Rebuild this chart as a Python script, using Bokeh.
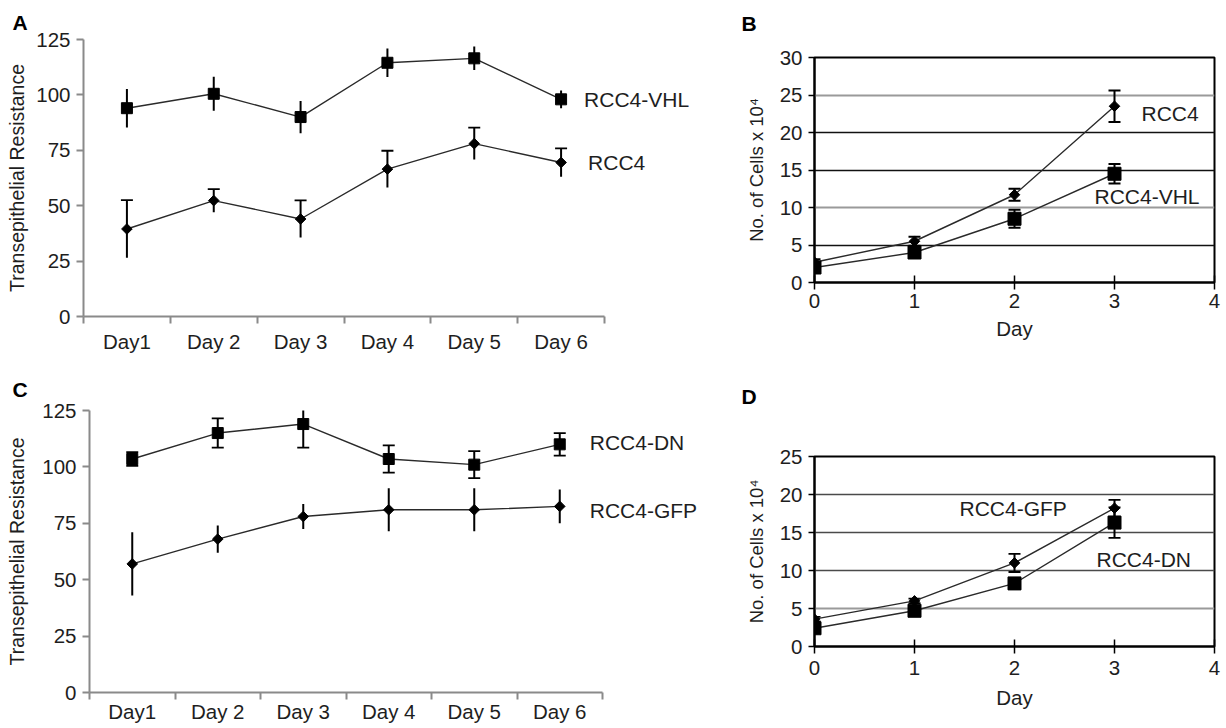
import numpy as np
from bokeh.plotting import figure
from bokeh.models import (Range1d, FixedTicker, Label, Whisker, TeeHead,
                          ColumnDataSource, Grid)
from bokeh.layouts import column, row
from bokeh.embed import file_html
from bokeh.resources import INLINE

# ---------------- data ----------------
days_ac = ["Day1", "Day 2", "Day 3", "Day 4", "Day 5", "Day 6"]
ter_ticks = [0, 25, 50, 75, 100, 125]

# Panel A
a_vhl = [94, 100.5, 90, 114.5, 116.5, 98]
a_vhl_err = [8.7, 7.7, 7.3, 6.4, 5.3, 4.0]
a_rcc4 = [39.5, 52.3, 44, 66.5, 78, 69.5]
a_rcc4_err = [13, 5.2, 8.4, 8.3, 7.2, 6.4]

# Panel C
c_dn = [103.5, 115, 119, 103.5, 101, 110]
c_dn_err = [3, 6.5, 10.5, 6, 6, 5]
c_gfp = [57, 68, 78, 81, 81, 82.5]
c_gfp_err = [14, 6, 5.5, 9.5, 9.5, 7.5]

# Panel B
days_bd = [0, 1, 2, 3]
day_ticks = [0, 1, 2, 3, 4]
b_ticks = [0, 5, 10, 15, 20, 25, 30]
b_rcc4 = [2.7, 5.5, 11.7, 23.5]
b_rcc4_err = [0.4, 0.6, 0.8, 2.1]
b_vhl = [2.0, 4.0, 8.5, 14.5]
b_vhl_err = [0.3, 0.4, 1.2, 1.3]

# Panel D
d_ticks = [0, 5, 10, 15, 20, 25]
d_gfp = [3.6, 6.0, 11.0, 18.2]
d_gfp_err = [0.3, 0.3, 1.2, 1.1]
d_dn = [2.4, 4.7, 8.3, 16.3]
d_dn_err = [0.3, 0.3, 0.7, 2.0]

FONT = "Liberation Sans"
TXT = "#1e1e1e"


def add_series(p, xs, ys, errs, marker, size, upper_cap, lower_cap, angle=0.0):
    src = ColumnDataSource(dict(
        x=xs, y=ys,
        upper=[y + e for y, e in zip(ys, errs)],
        lower=[y - e for y, e in zip(ys, errs)]))
    p.line("x", "y", source=src, line_color="#2a2a2a", line_width=1.4)
    w = Whisker(base="x", upper="upper", lower="lower", source=src,
                dimension="height", line_color="black", line_width=2,
                upper_head=TeeHead(size=12, line_color="black", line_width=1.8) if upper_cap else None,
                lower_head=TeeHead(size=12, line_color="black", line_width=1.8) if lower_cap else None)
    p.add_layout(w)
    p.scatter("x", "y", source=src, marker=marker, size=size, angle=angle,
              fill_color="black", line_color="black")
    return src


def series_label(p, x, y, text, dx, dy):
    p.add_layout(Label(x=x, y=y, x_offset=dx, y_offset=dy, text=text,
                       text_baseline="middle", text_align="left",
                       text_font=FONT, text_font_size="21px", text_color=TXT))


def panel_letter(p, text, offset, standoff, blank_lines=0):
    p.title.text = text + "\n\u00a0" * blank_lines
    p.title.align = "left"
    p.title.offset = offset
    p.title.standoff = standoff
    p.title.text_font = FONT
    p.title.text_font_size = "21px"
    p.title.text_font_style = "bold"
    p.title.text_color = "black"


def ter_panel(width, height, bl, bt, bb, axis_px, label_standoff):
    n = len(days_ac)
    frame_px = width - bl
    p = figure(width=width, height=height,
               x_range=Range1d(0, n * frame_px / axis_px),
               y_range=Range1d(0, 125), output_backend="svg",
               toolbar_location=None, min_border_left=bl, min_border_right=0,
               min_border_top=bt, min_border_bottom=bb)
    p.outline_line_color = None
    p.xgrid.visible = False
    p.ygrid.visible = False
    centers = [i + 0.5 for i in range(n)]
    p.xaxis.ticker = FixedTicker(ticks=centers, minor_ticks=list(range(n + 1)))
    p.xaxis.bounds = (0, n)
    p.xaxis.major_label_overrides = {c: d for c, d in zip(centers, days_ac)}
    p.xaxis.minor_tick_out = 7
    p.xaxis.minor_tick_in = 0
    p.xaxis.minor_tick_line_color = "#8a8a8a"
    p.xaxis.minor_tick_line_width = 2
    p.yaxis.ticker = FixedTicker(ticks=ter_ticks)
    p.yaxis.major_tick_out = 7
    p.yaxis.major_tick_in = 0
    p.yaxis.minor_tick_line_color = None
    for ax in (p.xaxis, p.yaxis):
        ax.axis_line_color = "#8a8a8a"
        ax.axis_line_width = 2
        ax.major_tick_line_width = 2
        ax.major_label_text_font = FONT
        ax.major_label_text_font_size = "20.5px"
        ax.major_label_text_color = TXT
    p.yaxis.major_tick_line_color = "#8a8a8a"
    p.xaxis.major_tick_line_color = None
    p.yaxis.major_label_standoff = 6
    p.xaxis.major_label_standoff = label_standoff
    p.yaxis.axis_label = "Transepithelial Resistance"
    p.yaxis.axis_label_text_font = FONT
    p.yaxis.axis_label_text_font_size = "19.5px"
    p.yaxis.axis_label_text_font_style = "normal"
    p.yaxis.axis_label_text_color = TXT
    return p, centers


def cells_panel(width, height, bl, br, bt, bb, ymax, yticks, tick_standoff, day_standoff):
    p = figure(width=width, height=height, x_range=Range1d(0, 4),
               y_range=Range1d(0, ymax), output_backend="svg",
               toolbar_location=None, min_border_left=bl, min_border_right=br,
               min_border_top=bt, min_border_bottom=bb)
    p.outline_line_color = "black"
    p.outline_line_width = 2
    p.xgrid.visible = False
    p.ygrid.visible = False
    p.xaxis.ticker = FixedTicker(ticks=day_ticks)
    p.yaxis.ticker = FixedTicker(ticks=yticks)
    for ax in (p.xaxis, p.yaxis):
        ax.axis_line_color = "black"
        ax.axis_line_width = 2
        ax.major_tick_line_color = "black"
        ax.major_tick_line_width = 1.5
        ax.minor_tick_line_color = None
        ax.major_label_text_font = FONT
        ax.major_label_text_font_size = "20.5px"
        ax.major_label_text_color = TXT
        ax.axis_label_text_font = FONT
        ax.axis_label_text_font_style = "normal"
        ax.axis_label_text_color = TXT
    p.xaxis.major_tick_in = 7
    p.xaxis.major_tick_out = 7
    p.yaxis.major_tick_in = 0
    p.yaxis.major_tick_out = 6
    p.xaxis.major_label_standoff = tick_standoff
    p.yaxis.major_label_standoff = 6
    p.xaxis.axis_label = "Day"
    p.xaxis.axis_label_text_font_size = "20.5px"
    p.xaxis.axis_label_standoff = day_standoff
    p.yaxis.axis_label = "No. of Cells x 10\u2074"
    p.yaxis.axis_label_text_font_size = "18.5px"
    p.yaxis.axis_label_standoff = 10
    return p


# ---------------- Panel A ----------------
pA, cA = ter_panel(720, 364, 83, 39, 48, 521, 6)
pA.yaxis.axis_label_standoff = 5
add_series(pA, cA, a_vhl, a_vhl_err, "square", 11, False, False)
add_series(pA, cA, a_rcc4, a_rcc4_err, "square", 7.5, True, False, angle=np.pi / 4)
series_label(pA, cA[-1], a_vhl[-1], "RCC4-VHL", 23, 0)
series_label(pA, cA[-1], a_rcc4[-1], "RCC4", 27, 0)
panel_letter(pA, "A", -71, 12)

# ---------------- Panel C ----------------
pC, cC = ter_panel(720, 364, 89, 46, 36, 513, 0)
pC.yaxis.axis_label_standoff = 11
add_series(pC, cC, c_dn, c_dn_err, "square", 11, True, True)
add_series(pC, cC, c_gfp, c_gfp_err, "square", 7.5, False, False, angle=np.pi / 4)
series_label(pC, cC[-1], c_dn[-1], "RCC4-DN", 30, 2)
series_label(pC, cC[-1], c_gfp[-1], "RCC4-GFP", 30, -4)
panel_letter(pC, "C", -77, 20)

# ---------------- Panel B ----------------
pB = cells_panel(506, 364, 94, 12, 57, 82, 30, b_ticks, 4, 6)
pB.add_layout(Grid(dimension=1, ticker=FixedTicker(ticks=[25, 10]),
                   grid_line_color="#9a9a9a", grid_line_width=2))
pB.add_layout(Grid(dimension=1, ticker=FixedTicker(ticks=[20, 15, 5]),
                   grid_line_color="#111111", grid_line_width=1.5))
add_series(pB, days_bd, b_rcc4, b_rcc4_err, "square", 7.5, True, True, angle=np.pi / 4)
add_series(pB, days_bd, b_vhl, b_vhl_err, "square", 13, True, True)
series_label(pB, days_bd[-1], b_rcc4[-1], "RCC4", 27, -7)
series_label(pB, days_bd[-1], b_vhl[-1], "RCC4-VHL", -20, -23)
panel_letter(pB, "B", -73, 0, blank_lines=1)

# ---------------- Panel D ----------------
pD = cells_panel(506, 364, 94, 12, 92, 82, 25, d_ticks, 7, 8)
pD.add_layout(Grid(dimension=1, ticker=FixedTicker(ticks=[20, 15, 10]),
                   grid_line_color="#4a4a4a", grid_line_width=1.5))
pD.add_layout(Grid(dimension=1, ticker=FixedTicker(ticks=[5]),
                   grid_line_color="#9a9a9a", grid_line_width=2))
add_series(pD, days_bd, d_gfp, d_gfp_err, "square", 7.5, True, True, angle=np.pi / 4)
add_series(pD, days_bd, d_dn, d_dn_err, "square", 13, True, True)
series_label(pD, days_bd[-1], d_gfp[-1], "RCC4-GFP", -155, 0)
series_label(pD, days_bd[-1], d_dn[-1], "RCC4-DN", -18, -37)
panel_letter(pD, "D", -73, 5, blank_lines=2)

layout = column(row(column(pA), column(pB)), row(column(pC), column(pD)))
open("out.html", "w").write(file_html(layout, INLINE))
